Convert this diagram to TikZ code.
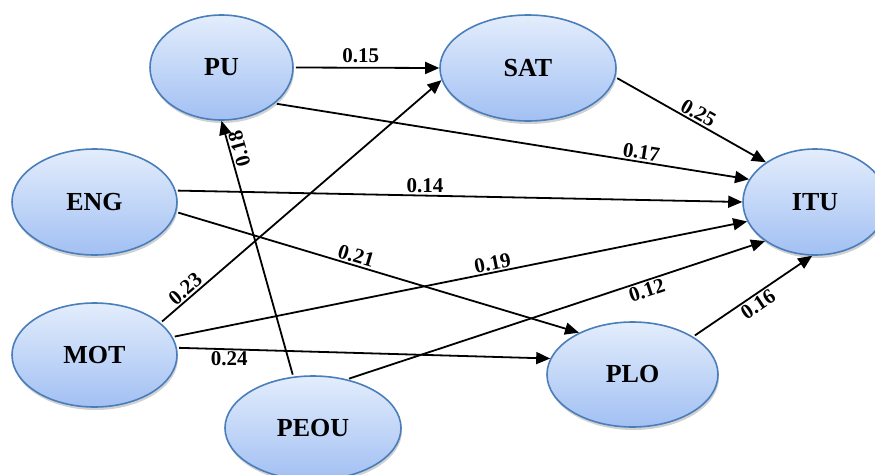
\documentclass[tikz,border=0pt]{standalone}
\usepackage{fontspec}
\setmainfont{Liberation Serif}
\usetikzlibrary{arrows.meta,shadows,shapes.geometric}
\definecolor{ellborder}{HTML}{4A7EBB}
\definecolor{elltop}{HTML}{E3EDFC}
\definecolor{ellbottom}{HTML}{A2C0F3}
\tikzset{
  construct/.style={ellipse, draw=ellborder, line width=1.6pt,
    top color=elltop, bottom color=ellbottom, inner sep=0pt,
    font=\fontsize{26}{28}\selectfont\bfseries,
    drop shadow={shadow xshift=1pt, shadow yshift=-3pt, opacity=0.18, fill=black}},
  link/.style={-{Triangle[length=14pt,width=12pt]}, line width=1.8pt, shorten <=2pt},
  coef/.style={font=\fontsize{21}{23}\selectfont\bfseries, inner sep=1.5pt}
}
\begin{document}
\begin{tikzpicture}[x=1pt,y=-1pt]
  \useasboundingbox (0,0) rectangle (875,474);
  \clip (0,0) rectangle (875,474);

  % latent constructs
  \node[construct, minimum width=143pt, minimum height=105pt] (PU)   at (221.5,67.5) {PU};
  \node[construct, minimum width=176pt, minimum height=106pt] (SAT)  at (528,68)     {SAT};
  \node[construct, minimum width=165pt, minimum height=106pt] (ENG)  at (94.5,202)   {ENG};
  \node[construct, minimum width=165pt, minimum height=104pt] (MOT)  at (94.5,355)   {MOT};
  \node[construct, minimum width=176pt, minimum height=104pt] (PEOU) at (313,428)    {PEOU};
  \node[construct, minimum width=171pt, minimum height=105pt] (PLO)  at (632.5,374.5){PLO};
  \node[construct, minimum width=144pt, minimum height=106pt] (ITU)  at (815,202)    {ITU};

  % structural paths with coefficients
  \draw[link] (PU.east) -- node[coef, pos=0.46, above=3pt] {0.15} (SAT.west);
  \draw[link] (PU.-34) -- node[coef, pos=0.77, sloped, above] {0.17} (ITU.161);
  \draw[link] (SAT.-6) -- node[coef, pos=0.52, sloped, above] {0.25} (ITU.141);
  \draw[link] (ENG.8) -- node[coef, pos=0.44, above] {0.14} (ITU.west);
  \draw[link] (ENG.-7) -- node[coef, pos=0.44, sloped, above] {0.21} (PLO.142);
  \draw[link] (MOT.26) -- node[coef, pos=0.11, sloped, above] {0.23} (SAT.188);
  \draw[link] (MOT.13) -- node[coef, pos=0.56, sloped, above] {0.19} (ITU.196);
  \draw[link] (MOT.5) -- node[coef, pos=0.14, below] {0.24} (PLO.169);
  \draw[link] (PEOU.111) -- node[coef, pos=0.88, rotate=105.5, anchor=north] {0.18} (PU.south);
  \draw[link] (PEOU.55) -- node[coef, pos=0.71, sloped, below] {0.12} (ITU.218);
  \draw[link] (PLO.32) -- node[coef, pos=0.5, sloped, below] {0.16} (ITU.-93);
\end{tikzpicture}
\end{document}
